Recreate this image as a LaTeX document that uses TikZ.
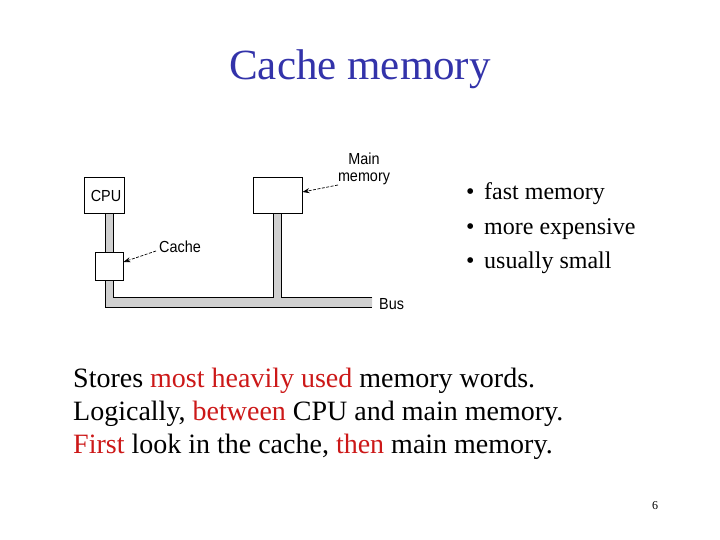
\documentclass[tikz,border=0pt]{standalone}
\usepackage{fontspec}
\setmainfont{Liberation Serif}
\newfontfamily\lsans[FakeStretch=0.9]{Liberation Sans}
\usetikzlibrary{arrows.meta,calc}
\definecolor{titleblue}{RGB}{51,51,170}
\definecolor{hired}{RGB}{204,24,24}
\definecolor{busgray}{RGB}{208,208,208}
\begin{document}
\begin{tikzpicture}[x=1pt,y=-1pt,
  box/.style={draw=black,line width=0.9pt,fill=white,inner sep=0pt},
  lbl/.style={font=\lsans\fontsize{16}{17}\selectfont,inner sep=0pt},
  ptr/.style={dash pattern=on 3pt off 1.5pt,line width=0.7pt,-{Stealth[length=7pt,width=5pt]}},
  bulletline/.style={anchor=base west,inner sep=0pt,font=\fontsize{24}{26}\selectfont},
  bodyline/.style={anchor=base west,inner sep=0pt,font=\fontsize{28}{30}\selectfont},
  busedge/.style={line width=0.9pt,line join=miter}]
\useasboundingbox (0,0) rectangle (720,540);
% title
\node[anchor=base,inner sep=0pt,text=titleblue,font=\fontsize{43}{46}\selectfont] (title) at (360,80) {Cache memory};
% bus shape
\fill[busgray] (105,213) -- (105,307) -- (372,307) -- (372,297) -- (281,297) -- (281,213) -- (273,213) -- (273,297) -- (113,297) -- (113,213) -- cycle;
\draw[busedge] (105,213) -- (105,307) -- (372,307);
\draw[busedge,line width=0.6pt] (372,297) -- (281,297) -- (281,213);
\draw[busedge,line width=0.6pt] (273,213) -- (273,297) -- (113,297) -- (113,213);
% boxes
\node[box,minimum width=40pt,minimum height=36pt] (cpu) at (104,195) {};
\node[lbl] (cputxt) at (106,196) {CPU};
\node[box,minimum width=49pt,minimum height=36pt] (mem) at (277.5,195) {};
\node[box,minimum width=28pt,minimum height=28pt] (cache) at (109,266) {};
% labels
\node[lbl,anchor=base west] (cachelbl) at (159,252) {Cache};
\node[lbl,anchor=base] (mainlbl) at (364,165) {Main};
\node[lbl,anchor=base] (memlbl) at (364,182) {memory};
\node[lbl,anchor=base west] (buslbl) at (379,309) {Bus};
\coordinate (cachefrom) at (156,251);
\coordinate (memfrom) at (338,185);
\draw[ptr] (cachefrom) -- ($(cache.east)+(0,-4)$);
\draw[ptr] (memfrom) -- ($(mem.east)+(0,-3)$);
% bullets
\node[bulletline] (b1) at (466,200) {\makebox[18pt][l]{•}fast memory};
\node[bulletline] (b2) at (466,234) {\makebox[18pt][l]{•}more expensive};
\node[bulletline] (b3) at (466,268) {\makebox[18pt][l]{•}usually small};
% body text
\node[bodyline] (l1) at (73,387) {Stores \textcolor{hired}{most heavily used} memory words.};
\node[bodyline] (l2) at (73,420) {Logically, \textcolor{hired}{between} CPU and main memory.};
\node[bodyline] (l3) at (73,453) {\textcolor{hired}{First} look in the cache, \textcolor{hired}{then} main memory.};
% page number
\node[anchor=base,inner sep=0pt,font=\fontsize{12}{14}\selectfont] (pg) at (655,509) {6};
\end{tikzpicture}
\end{document}
